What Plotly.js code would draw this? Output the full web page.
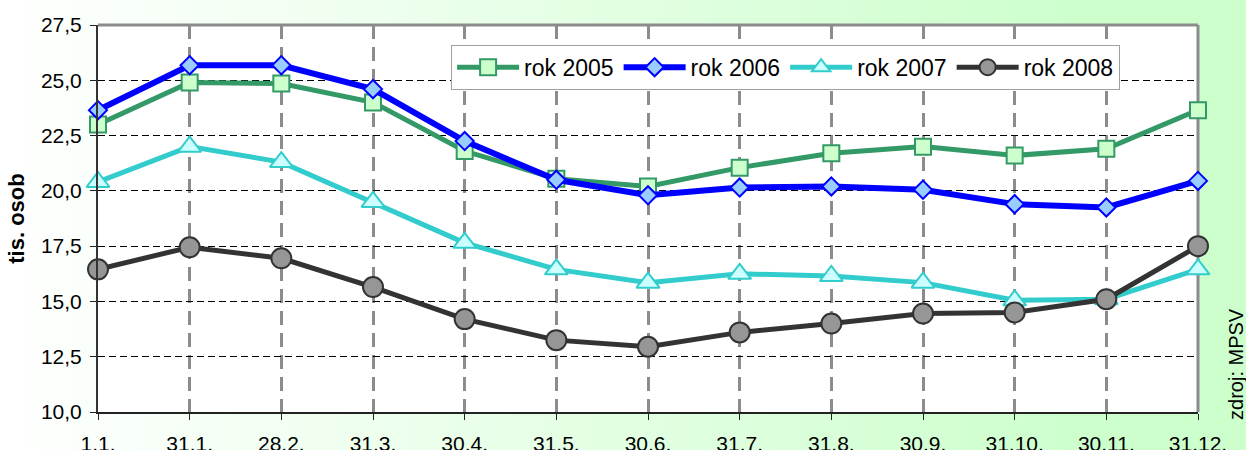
<!DOCTYPE html>
<html>
<head>
<meta charset="utf-8">
<script src="https://cdn.plot.ly/plotly-3.0.1.min.js"></script>
<style>
  html, body { margin: 0; padding: 0; width: 1246px; height: 450px; overflow: hidden; }
  body { background: linear-gradient(to right, #ffffff 0%, #e8ffe8 40%, #ccffcc 88%, #ccffcc 100%); }
  #chart { width: 1246px; height: 450px; }
</style>
</head>
<body>
<div id="chart"></div>
<script>
// ---- data ----
const categories = ['1.1.', '31.1.', '28.2.', '31.3.', '30.4.', '31.5.', '30.6.', '31.7.', '31.8.', '30.9.', '31.10.', '30.11.', '31.12.'];
const rok2005 = [23.0, 24.9, 24.85, 24.0, 21.8, 20.55, 20.2, 21.05, 21.7, 22.0, 21.6, 21.9, 23.65];
const rok2006 = [23.65, 25.68, 25.68, 24.6, 22.25, 20.5, 19.8, 20.15, 20.2, 20.05, 19.4, 19.25, 20.45];
const rok2007 = [20.4, 22.0, 21.3, 19.5, 17.65, 16.45, 15.85, 16.25, 16.15, 15.85, 15.05, 15.1, 16.45];
const rok2008 = [16.45, 17.45, 16.95, 15.65, 14.2, 13.25, 12.95, 13.6, 14.0, 14.45, 14.5, 15.1, 17.5];
const seriesNames = ['rok 2005', 'rok 2006', 'rok 2007', 'rok 2008'];
const yTickVals = [10, 12.5, 15, 17.5, 20, 22.5, 25, 27.5];

const FONT = 'Arial, "Liberation Sans", sans-serif';

function trace(name, y, lineColor, lineWidth, symbol, size, fill) {
  return {
    type: 'scatter', mode: 'lines+markers', name: name,
    x: categories, y: y, cliponaxis: false,
    line: { color: lineColor, width: lineWidth },
    marker: { symbol: symbol, size: size, color: fill, line: { color: lineColor, width: 2 } }
  };
}

const data = [
  trace(seriesNames[0], rok2005, '#339966', 5, 'square', 16, '#ccffcc'),
  trace(seriesNames[1], rok2006, '#0000ff', 6, 'diamond', 14, '#99ccff'),
  trace(seriesNames[2], rok2007, '#33cccc', 5, 'triangle-up', 20, '#ccffff'),
  trace(seriesNames[3], rok2008, '#333333', 5, 'circle', 20, '#969696')
];

const layout = {
  width: 1246, height: 450,
  margin: { l: 98, r: 48, t: 25, b: 38, pad: 0 },
  paper_bgcolor: 'rgba(0,0,0,0)',
  plot_bgcolor: '#ffffff',
  separators: ', ',
  font: { family: FONT, color: '#000000', size: 20 },
  showlegend: true,
  legend: {
    orientation: 'h', x: 0.321, y: 0.949, xanchor: 'left', yanchor: 'top',
    bgcolor: '#ffffff', bordercolor: '#a0a0a0', borderwidth: 1,
    font: { family: FONT, size: 23, color: '#000000' },
    itemwidth: 62, traceorder: 'normal'
  },
  xaxis: {
    type: 'category', categoryorder: 'array', categoryarray: categories,
    range: [0, categories.length - 1],
    showgrid: true, gridcolor: '#8c8c8c', gridwidth: 3, griddash: '14px,8px',
    showline: true, linecolor: '#222222', linewidth: 2,
    ticks: 'outside', ticklen: 6, tickcolor: '#222222', tickwidth: 1,
    tickfont: { family: FONT, size: 21, color: '#000000' },
    ticklabelstandoff: 6,
    zeroline: false, fixedrange: true
  },
  yaxis: {
    range: [10, 27.5], tickvals: yTickVals, tickformat: '.1f',
    showgrid: true, gridcolor: '#000000', gridwidth: 1, griddash: '7px,4px',
    showline: true, linecolor: '#333333', linewidth: 2,
    ticks: 'outside', ticklen: 6, tickcolor: '#222222', tickwidth: 1,
    tickfont: { family: FONT, size: 21, color: '#000000' },
    ticklabelstandoff: 4,
    title: { text: 'tis. osob', font: { family: FONT, size: 22, weight: 'bold', color: '#000000' }, standoff: 10 },
    zeroline: false, fixedrange: true
  },
  shapes: [
    { type: 'line', xref: 'paper', yref: 'paper', x0: 0, x1: 1, y0: 1, y1: 1, line: { color: '#8c8c8c', width: 3 }, layer: 'above' },
    { type: 'line', xref: 'paper', yref: 'paper', x0: 1, x1: 1, y0: 0, y1: 1, line: { color: '#8c8c8c', width: 3 }, layer: 'below' }
  ],
  annotations: [
    { text: 'zdroj: MPSV', xref: 'paper', yref: 'paper', x: 1.0345, y: 0.124, xanchor: 'center', yanchor: 'middle',
      textangle: -90, showarrow: false, font: { family: FONT, size: 20, color: '#000000' } }
  ]
};

Plotly.newPlot('chart', data, layout, { displayModeBar: false, staticPlot: true });
</script>
</body>
</html>
